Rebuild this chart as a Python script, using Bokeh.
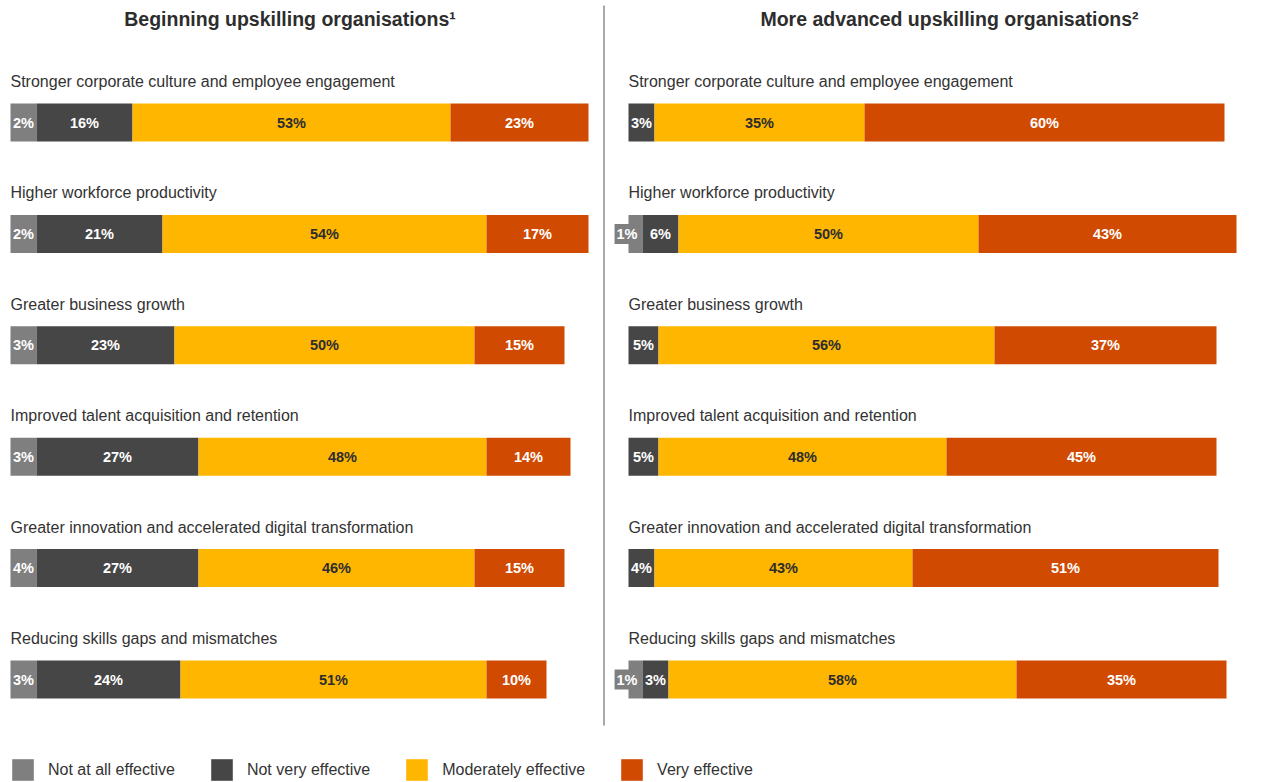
import numpy as np
from bokeh.plotting import figure
from bokeh.models import Range1d, ColumnDataSource, Legend, LegendItem
from bokeh.core.properties import value
from bokeh.embed import file_html
from bokeh.resources import INLINE

# ---------------- data ----------------
categories = [
    "Stronger corporate culture and employee engagement",
    "Higher workforce productivity",
    "Greater business growth",
    "Improved talent acquisition and retention",
    "Greater innovation and accelerated digital transformation",
    "Reducing skills gaps and mismatches",
]
levels = ["Not at all effective", "Not very effective", "Moderately effective", "Very effective"]
panel_titles = ["Beginning upskilling organisations\u00b9", "More advanced upskilling organisations\u00b2"]

beginning_not_at_all = [2, 2, 3, 3, 4, 3]
beginning_not_very = [16, 21, 23, 27, 27, 24]
beginning_moderately = [53, 54, 50, 48, 46, 51]
beginning_very = [23, 17, 15, 14, 15, 10]

advanced_not_at_all = [0, 1, 0, 0, 0, 1]
advanced_not_very = [3, 6, 5, 5, 4, 3]
advanced_moderately = [35, 50, 56, 48, 43, 58]
advanced_very = [60, 43, 37, 45, 51, 35]

# ---------------- style / layout ----------------
colors = ["#7f7f7f", "#464646", "#ffb600", "#d04a02"]
label_colors = ["#ffffff", "#ffffff", "#2d2d2d", "#ffffff"]
FONT = "Liberation Sans"

W, H = 1278, 782
S = 6.0            # px per percentage point
LEFT_X0 = 10       # px where 0% sits in left panel
RIGHT_X0 = 628     # px where 0% sits in right panel
ROW_TOP = 122      # px of first bar centre
STEP = 111.4       # px between rows
BAR_H = 38         # px bar thickness
MIN_SEG_PX = 26    # minimum drawn width of a labelled segment (as in the original)
MIN_TINY_PX = 14   # minimum drawn width of a 1% segment (label boxed outside)

p = figure(width=W, height=H, output_backend="svg", toolbar_location=None,
           x_axis_location=None, y_axis_location=None, min_border=0,
           x_range=Range1d(-LEFT_X0 / S, (W - LEFT_X0) / S),
           y_range=Range1d((H - ROW_TOP) / STEP, -ROW_TOP / STEP))
p.extra_x_ranges = {"adv": Range1d(-RIGHT_X0 / S, (W - RIGHT_X0) / S)}
p.grid.visible = False
p.outline_line_color = None
p.background_fill_color = "#ffffff"

rows = np.arange(len(categories), dtype=float)

panels = [
    ("default", [beginning_not_at_all, beginning_not_very, beginning_moderately, beginning_very]),
    ("adv", [advanced_not_at_all, advanced_not_very, advanced_moderately, advanced_very]),
]

legend_renderers = []
label_jobs = []
for pi, (rname, series) in enumerate(panels):
    vals = np.array(series, dtype=float)
    # drawn lengths: value, but never thinner than what its label needs
    drawn = np.where(vals >= 2, np.maximum(vals, MIN_SEG_PX / S),
                     np.where(vals > 0, np.maximum(vals, MIN_TINY_PX / S), 0.0))
    cum = np.cumsum(drawn, axis=0)
    lefts = cum - drawn
    for k in range(4):
        m = vals[k] > 0
        src = ColumnDataSource(dict(y=rows[m], left=lefts[k][m], right=cum[k][m]))
        r = p.hbar(y="y", left="left", right="right", height=BAR_H / STEP,
                   fill_color=colors[k], line_color=None, source=src, x_range_name=rname)
        if pi == 0:
            legend_renderers.append(r)
        labels = [f"{int(v)}%" for v in vals[k][m]]
        tiny = vals[k][m] < 2
        if (~tiny).any():
            label_jobs.append((rname, k, dict(
                x=((lefts[k] + cum[k]) / 2)[m][~tiny], y=rows[m][~tiny],
                text=[t for t, s in zip(labels, ~tiny) if s]),
                dict(text_align="center")))
        if tiny.any():
            label_jobs.append((rname, k, dict(
                x=cum[k][m][tiny], y=rows[m][tiny],
                text=[t for t, s in zip(labels, tiny) if s]),
                dict(text_align="right", x_offset=-3,
                     background_fill_color=colors[k], padding=2)))
    # category labels above bars
    csrc = ColumnDataSource(dict(x=np.zeros(len(categories)), y=rows - 41 / STEP, text=categories))
    p.text(x="x", y="y", text="text", source=csrc, x_range_name=rname,
           text_align="left", text_baseline="middle",
           text_font=value(FONT), text_font_size="16px", text_color="#333333")

# value labels drawn after all bars
for rname, k, data, extra in label_jobs:
    p.text(x="x", y="y", text="text", source=ColumnDataSource(data), x_range_name=rname,
           text_baseline="middle",
           text_font=value(FONT), text_font_size="14.5px", text_font_style="bold",
           text_color=label_colors[k], **extra)

# panel titles
title_y = (18 - ROW_TOP) / STEP
p.text(x=[(289.5 - LEFT_X0) / S], y=[title_y], text=[panel_titles[0]],
       text_align="center", text_baseline="middle", text_font=value(FONT),
       text_font_size="19.5px", text_font_style="bold", text_color="#2d2d2d")
p.text(x=[(949 - RIGHT_X0) / S], y=[title_y], text=[panel_titles[1]], x_range_name="adv",
       text_align="center", text_baseline="middle", text_font=value(FONT),
       text_font_size="19.5px", text_font_style="bold", text_color="#2d2d2d")

# divider between panels
div_x = (603.5 - LEFT_X0) / S
p.segment(x0=[div_x], y0=[(5 - ROW_TOP) / STEP], x1=[div_x], y1=[(725 - ROW_TOP) / STEP],
          line_color="#555555", line_width=1)

# legend
legend = Legend(
    items=[LegendItem(label=levels[k], renderers=[legend_renderers[k]]) for k in range(4)],
    orientation="horizontal", location=(9, -1),
    glyph_width=27, glyph_height=27, label_standoff=12, spacing=33,
    padding=0, margin=0, border_line_color=None, background_fill_alpha=0,
    label_text_font=FONT, label_text_font_size="16px", label_text_color="#333333",
)
p.add_layout(legend)

open("out.html", "w").write(file_html(p, INLINE))
